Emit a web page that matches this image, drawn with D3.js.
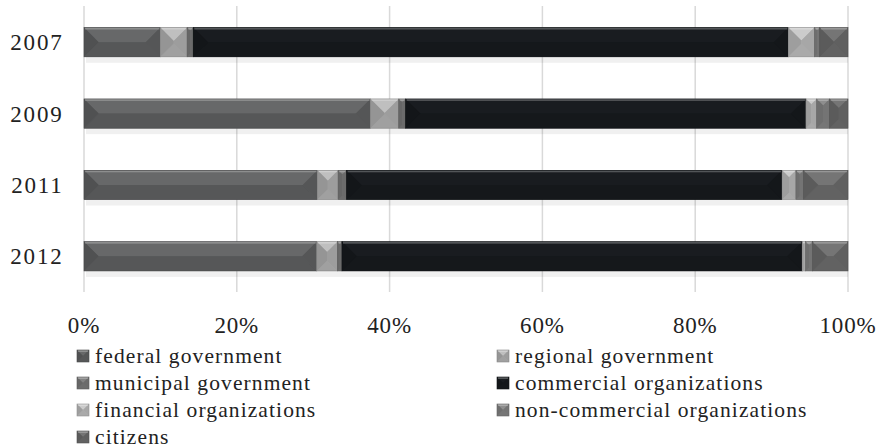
<!DOCTYPE html>
<html>
<head>
    <title>Stacked bars</title>
    <script src="https://d3js.org/d3.v7.min.js"></script>
    <style>
        body { margin: 0; background: #fff; }
        text { font-family: "Liberation Serif", "DejaVu Serif", serif; fill: #222; }
        .year-label { font-size: 23px; letter-spacing: 1.8px; }
        .tick-label { font-size: 23px; letter-spacing: 0.8px; }
        .legend-label { font-size: 21.5px; letter-spacing: 1.1px; }
    </style>
</head>
<body>
<div id="chart"></div>
<script>
    // data (percent shares)
    const years = ["2007", "2009", "2011", "2012"];
    const seriesNames = ["federal government", "regional government", "municipal government",
        "commercial organizations", "financial organizations", "non-commercial organizations", "citizens"];
    const federal       = [10.0, 37.5, 30.5, 30.5];
    const regional      = [3.5, 3.7, 2.7, 2.7];
    const municipal     = [0.8, 0.9, 1.1, 0.6];
    const commercial    = [77.9, 52.4, 56.9, 60.3];
    const financial     = [3.4, 1.4, 1.8, 0.45];
    const nonCommercial = [0.7, 1.7, 1.0, 0.9];
    const citizens      = [3.7, 2.4, 5.8, 4.65];
    const xTicks = [0, 0.2, 0.4, 0.6, 0.8, 1.0];

    // base colour of each series
    const colors = ["#5b5c5d", "#a9a9a9", "#737373", "#16191c", "#b3b3b3", "#7d7d7d", "#676767"];

    const W = 876, H = 448;
    const svg = d3.select("#chart").append("svg")
        .attr("width", W).attr("height", H);

    const keys = seriesNames;
    const allSeries = [federal, regional, municipal, commercial, financial, nonCommercial, citizens];
    const table = years.map((y, i) => {
        const row = { year: y };
        keys.forEach((k, j) => row[k] = allSeries[j][i]);
        return row;
    });
    const stacked = d3.stack().keys(keys).offset(d3.stackOffsetExpand)(table);

    const x = d3.scaleLinear().domain([0, 1]).range([84, 848]);
    const y = d3.scaleBand().domain(years).range([6.5, 292])
        .paddingInner(0.59).paddingOuter(0.295);

    // gridlines
    svg.append("g").selectAll("line")
        .data(xTicks)
        .join("line")
        .attr("x1", d => x(d)).attr("x2", d => x(d))
        .attr("y1", 6).attr("y2", 292)
        .attr("stroke", "#d9d9d9").attr("stroke-width", 1.5);

    // faint shadow under bars
    svg.append("g").selectAll("rect")
        .data(years)
        .join("rect")
        .attr("x", x(0) + 2).attr("width", x(1) - x(0) - 2)
        .attr("y", d => y(d) + y.bandwidth())
        .attr("height", 6)
        .attr("fill", "#000").attr("opacity", 0.06);

    // bevelled box: base + four faces
    function bevel(g, x0, y0, w, h, c) {
        const d = Math.min(h / 2, w / 2);
        const x1 = x0 + w, y1 = y0 + h;
        const base = d3.color(c);
        g.append("rect").attr("x", x0).attr("y", y0).attr("width", w).attr("height", h).attr("fill", base);
        const faces = [
            [[x0, y0], [x1, y0], [x1 - d, y0 + d], [x0 + d, y0 + d], base.brighter(0.35)],
            [[x0, y1], [x1, y1], [x1 - d, y1 - d], [x0 + d, y1 - d], base.darker(0.15)],
            [[x0, y0], [x0 + d, y0 + d], [x0 + d, y1 - d], [x0, y1], base.darker(0.35)],
            [[x1, y0], [x1 - d, y0 + d], [x1 - d, y1 - d], [x1, y1], base.darker(0.2)]
        ];
        faces.forEach(f => {
            g.append("polygon")
                .attr("points", f.slice(0, 4).map(p => p.join(",")).join(" "))
                .attr("fill", f[4]);
        });
        // top highlight strip
        g.append("rect").attr("x", x0 + 1).attr("y", y0).attr("width", Math.max(0, w - 2)).attr("height", 2)
            .attr("fill", "#fff").attr("opacity", 0.25);
        g.append("rect").attr("x", x0).attr("y", y0).attr("width", w).attr("height", h)
            .attr("fill", "none").attr("stroke", base.darker(0.6)).attr("stroke-width", 0.6);
    }

    const bars = svg.append("g");
    stacked.forEach((s, j) => {
        s.forEach(seg => {
            const yr = seg.data.year;
            bevel(bars, x(seg[0]), y(yr), x(seg[1]) - x(seg[0]), y.bandwidth(), colors[j]);
        });
    });

    // y labels
    svg.append("g").selectAll("text")
        .data(years)
        .join("text")
        .attr("class", "year-label")
        .attr("x", 63.5)
        .attr("y", d => y(d) + y.bandwidth() / 2)
        .attr("dy", "0.35em")
        .attr("text-anchor", "end")
        .text(d => d);

    // x tick labels
    svg.append("g").selectAll("text")
        .data(xTicks)
        .join("text")
        .attr("class", "tick-label")
        .attr("x", d => x(d))
        .attr("y", 333)
        .attr("text-anchor", "middle")
        .text(d => d3.format(".0%")(d));

    // legend
    const legend = svg.append("g");
    seriesNames.forEach((name, i) => {
        const col = i % 2, row = Math.floor(i / 2);
        const lx = col === 0 ? 77 : 497;
        const ly = 356 + row * 27;
        bevel(legend, lx, ly - 6, 12, 12, colors[i]);
        legend.append("text")
            .attr("class", "legend-label")
            .attr("x", lx + 18)
            .attr("y", ly)
            .attr("dy", "0.33em")
            .text(name);
    });
</script>
</body>
</html>
